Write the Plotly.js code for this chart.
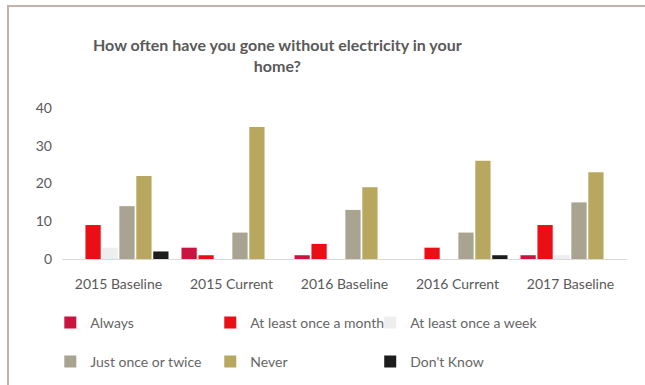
<!DOCTYPE html>
<html>
<head>
<meta charset="utf-8">
<script src="https://cdn.plot.ly/plotly-3.0.1.min.js"></script>
<style>
  html, body { margin: 0; padding: 0; background: #ffffff; }
  #wrap { position: relative; width: 645px; height: 385px; overflow: hidden; }
  #chart { position: absolute; left: 0; top: 0; width: 645px; height: 385px; }
  #frame { position: absolute; left: 7px; top: 5px; width: 700px; height: 400px;
           border-top: 2px solid #c4b3a4; border-left: 2px solid #c4b3a4; pointer-events: none; }
</style>
</head>
<body>
<div id="wrap">
  <div id="chart"></div>
  <div id="frame"></div>
</div>
<script>
// Categories and series values
var categories = ["2015 Baseline", "2015 Current", "2016 Baseline", "2016 Current", "2017 Baseline"];
var seriesNames = ["Always", "At least once a month", "At least once a week", "Just once or twice", "Never", "Don't Know"];
var always    = [0, 3, 1, 0, 1];
var month     = [9, 1, 4, 3, 9];
var week      = [3, 0, 0, 0, 1];
var justOnce  = [14, 7, 13, 7, 15];
var never     = [22, 35, 19, 26, 23];
var dontKnow  = [2, 0, 0, 1, 0];
var yTicks    = [0, 10, 20, 30, 40];

var values = [always, month, week, justOnce, never, dontKnow];
var colors = ["#c8143e", "#ea0f14", "#eeeeee", "#a9a391", "#b8a75e", "#1c1c1c"];
var legendIds = ["legend", "legend2", "legend3", "legend4", "legend5", "legend6"];

var traces = seriesNames.map(function (name, i) {
  return {
    type: "bar",
    name: name,
    x: categories,
    y: values[i],
    marker: { color: colors[i], line: { width: 0 } },
    legend: legendIds[i],
    hoverinfo: "x+y+name"
  };
});

var fontFam = "Lato, 'Open Sans', sans-serif";
// legend grid: 3 columns x 2 rows (container coordinates)
var legCols = [0.078, 0.326, 0.574];
var legRows = [0.161, 0.060];
function legendAt(col, row) {
  return {
    orientation: "h",
    xref: "container", yref: "container",
    x: legCols[col], xanchor: "left",
    y: legRows[row], yanchor: "middle",
    itemwidth: 30,
    font: { family: fontFam, size: 14, color: "#666666" },
    bgcolor: "rgba(0,0,0,0)"
  };
}

var layout = {
  width: 645,
  height: 385,
  paper_bgcolor: "#ffffff",
  plot_bgcolor: "#ffffff",
  margin: { l: 62, r: 18, t: 108, b: 126 },
  barmode: "group",
  bargap: 0.1,
  bargroupgap: 0.1,
  showlegend: true,
  title: {
    text: "How often have you gone without electricity in your<br>home?",
    font: { family: fontFam, size: 16, color: "#595959", weight: "bold" },
    x: 0.43,
    xanchor: "center",
    xref: "container",
    y: 0.868,
    yanchor: "top"
  },
  xaxis: {
    type: "category",
    showgrid: false,
    showline: true,
    linecolor: "#d9d9d9",
    linewidth: 1,
    ticks: "",
    ticklabelstandoff: 12,
    tickfont: { family: fontFam, size: 14, color: "#595959" },
    zeroline: false,
    automargin: false
  },
  yaxis: {
    range: [0, 40],
    tickvals: yTicks,
    ticktext: yTicks.map(String),
    showgrid: false,
    showline: false,
    zeroline: false,
    ticks: "",
    ticklabelstandoff: 9,
    tickfont: { family: fontFam, size: 14, color: "#595959" },
    automargin: false
  },
  legend: legendAt(0, 0),
  legend2: legendAt(1, 0),
  legend3: legendAt(2, 0),
  legend4: legendAt(0, 1),
  legend5: legendAt(1, 1),
  legend6: legendAt(2, 1)
};

Plotly.newPlot("chart", traces, layout, { displayModeBar: false, staticPlot: true });
</script>
</body>
</html>
